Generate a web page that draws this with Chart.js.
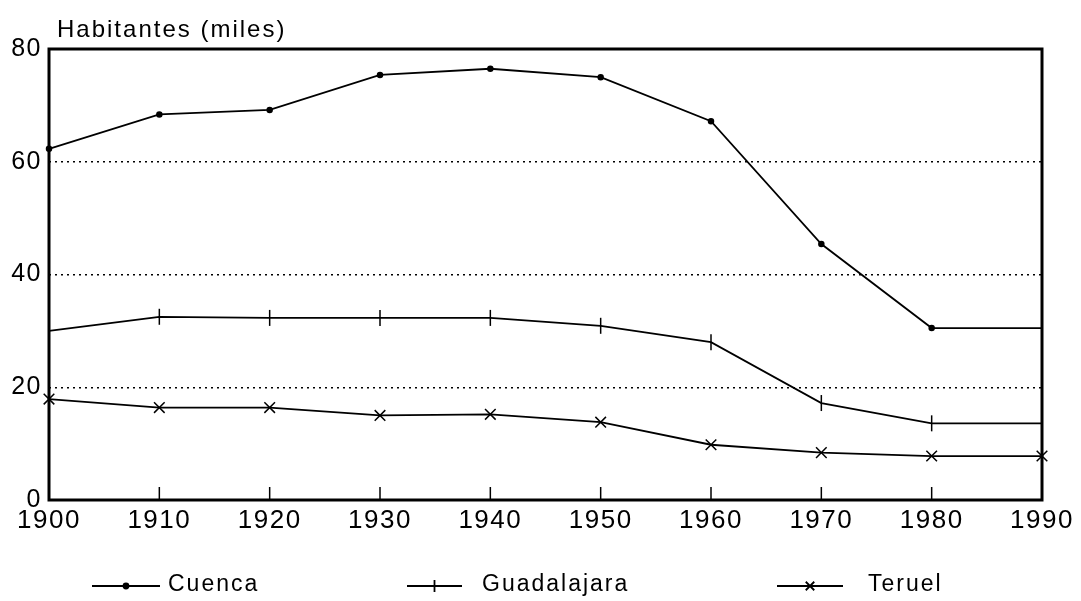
<!DOCTYPE html>
<html>
<head>
<meta charset="utf-8">
<script src="https://cdn.jsdelivr.net/npm/chart.js@4"></script>
<style>
  html, body { margin: 0; padding: 0; background: #fff; }
  #wrap { width: 1081px; height: 601px; }
</style>
</head>
<body>
<div id="wrap"><canvas id="chart" width="1081" height="601"></canvas></div>
<script>
// data
const years = [1900, 1910, 1920, 1930, 1940, 1950, 1960, 1970, 1980, 1990];
const cuenca = [62.3, 68.4, 69.2, 75.4, 76.5, 75.0, 67.2, 45.4, 30.5, 30.5];
const guadalajara = [30.0, 32.5, 32.3, 32.3, 32.3, 30.9, 28.0, 17.2, 13.6, 13.6];
const teruel = [17.9, 16.4, 16.4, 15.0, 15.2, 13.8, 9.8, 8.4, 7.8, 7.8];
const yTicks = [0, 20, 40, 60, 80];
const yTitle = 'Habitantes (miles)';

const FONT = '"Liberation Sans", Arial, sans-serif';
const toXY = arr => arr.map((v, i) => ({ x: years[i], y: v }));

// no marker on the last point for the first two series (it sits on the frame)
const noLast = r => (r.dataIndex === years.length - 1 ? 0 : r.dataset._r);

const frame = {
    id: 'frame',
    beforeDraw(chart) {
        chart.ctx.letterSpacing = '1.5px';
    },
    afterDraw(chart) {
        const { ctx, chartArea: a, scales } = chart;
        ctx.save();
        ctx.strokeStyle = '#000';
        // tick marks on the bottom axis, pointing inward
        ctx.lineWidth = 1.5;
        years.forEach(y => {
            const x = scales.x.getPixelForValue(y);
            ctx.beginPath();
            ctx.moveTo(x, a.bottom);
            ctx.lineTo(x, a.bottom - 13);
            ctx.stroke();
        });
        ctx.lineWidth = 3;
        ctx.strokeRect(a.left, a.top, a.right - a.left, a.bottom - a.top);

        // axis title
        ctx.fillStyle = '#000';
        ctx.letterSpacing = '2px';
        ctx.font = '24px ' + FONT;
        ctx.textBaseline = 'alphabetic';
        ctx.textAlign = 'left';
        ctx.fillText(yTitle, 57, 37);

        // legend: [dataset, line start, line end, text start]
        const legendY = 586;
        const items = [[0, 92, 160, 168], [1, 407, 462, 482], [2, 777, 843, 868]];
        ctx.font = '23px ' + FONT;
        ctx.textBaseline = 'middle';
        items.forEach(([i, x0, x1, tx]) => {
            const ds = chart.data.datasets[i];
            ctx.lineWidth = 1.8;
            ctx.beginPath();
            ctx.moveTo(x0, legendY);
            ctx.lineTo(x1, legendY);
            ctx.stroke();
            Chart.helpers.drawPoint(ctx, {
                pointStyle: ds.pointStyle,
                radius: ds.legendRadius,
                rotation: ds.pointRotation || 0,
                borderWidth: 1.5
            }, (x0 + x1) / 2, legendY);
            ctx.fillText(ds.label, tx, legendY - 1);
        });
        ctx.restore();
    }
};

new Chart(document.getElementById('chart'), {
    type: 'line',
    data: {
        datasets: [
            {
                label: 'Cuenca',
                data: toXY(cuenca),
                pointStyle: 'circle',
                _r: 2.5,
                legendRadius: 2.5,
                pointRadius: noLast,
                pointBackgroundColor: '#000'
            },
            {
                label: 'Guadalajara',
                data: toXY(guadalajara),
                pointStyle: 'line',
                pointRotation: 90,
                _r: 8,
                legendRadius: 6,
                pointRadius: noLast
            },
            {
                label: 'Teruel',
                data: toXY(teruel),
                pointStyle: 'crossRot',
                pointRadius: 7.5,
                legendRadius: 6
            }
        ].map(d => Object.assign({
            borderColor: '#000',
            backgroundColor: '#000',
            borderWidth: 1.8,
            pointBorderColor: '#000',
            pointBorderWidth: 1.5,
            tension: 0,
            fill: false,
            clip: false
        }, d))
    },
    plugins: [frame],
    options: {
        responsive: false,
        animation: false,
        layout: { padding: { top: 49, right: 39, left: 0, bottom: 0 } },
        plugins: { legend: { display: false }, tooltip: { enabled: false } },
        scales: {
            x: {
                type: 'linear',
                min: 1900,
                max: 1990,
                afterBuildTicks: s => { s.ticks = years.map(v => ({ value: v })); },
                grid: { display: false },
                border: { display: false },
                ticks: {
                    color: '#000',
                    font: { family: FONT, size: 26 },
                    padding: -3,
                    maxRotation: 0,
                    autoSkip: false,
                    callback: v => String(v)
                },
                afterFit: s => { s.height = 101; }
            },
            y: {
                min: 0,
                max: 80,
                afterBuildTicks: s => { s.ticks = yTicks.map(v => ({ value: v })); },
                grid: {
                    color: c => (c.tick.value === 0 || c.tick.value === 80 ? 'rgba(0,0,0,0)' : '#000'),
                    lineWidth: 1.5,
                    drawTicks: false
                },
                border: { display: false, dash: [2, 4] },
                ticks: {
                    color: '#000',
                    font: { family: FONT, size: 25 },
                    padding: 7
                },
                afterFit: s => { s.width = 49; }
            }
        }
    }
});
</script>
</body>
</html>
